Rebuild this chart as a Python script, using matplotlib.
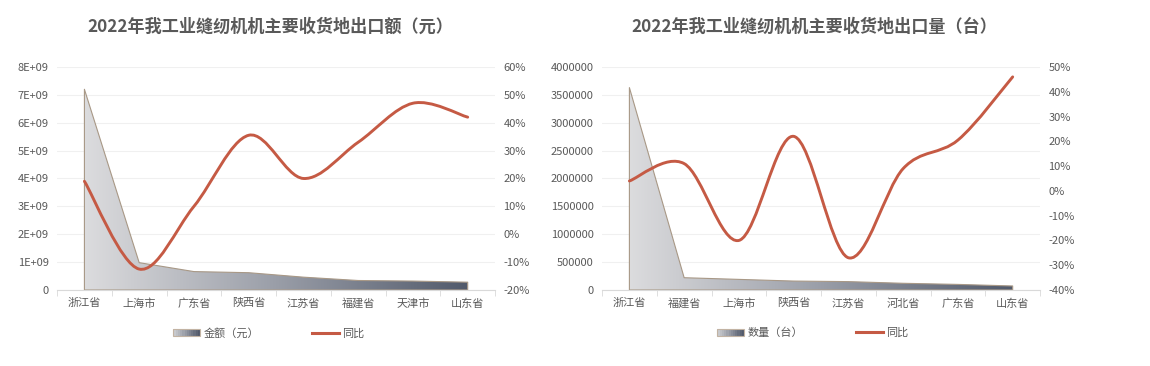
import numpy as np
import matplotlib
matplotlib.use('Agg')
from matplotlib import pyplot as plt
from matplotlib.path import Path
from matplotlib.patches import PathPatch, Patch, Rectangle
from matplotlib.lines import Line2D
from matplotlib.colors import LinearSegmentedColormap
from matplotlib.legend_handler import HandlerBase

plt.rcParams['font.family'] = ['Noto Sans CJK SC', 'DejaVu Sans']

# 左图：出口额（元）
cats_1 = ['浙江省', '上海市', '广东省', '陕西省', '江苏省', '福建省', '天津市', '山东省']
amount_1 = [7.2e9, 0.98e9, 0.66e9, 0.62e9, 0.46e9, 0.34e9, 0.32e9, 0.28e9]
yoy_1 = [19, -12.5, 10, 35.5, 20, 33, 47, 42]

# 右图：出口量（台）
cats_2 = ['浙江省', '福建省', '上海市', '陕西省', '江苏省', '河北省', '广东省', '山东省']
amount_2 = [3630000, 220000, 190000, 160000, 150000, 120000, 100000, 72000]
yoy_2 = [4, 11, -20, 22, -27, 9, 20.5, 46]

titles = ['2022年我工业缝纫机机主要收货地出口额（元）', '2022年我工业缝纫机机主要收货地出口量（台）']
legend_names = ['金额（元）', '数量（台）']

TXT = '#595959'
LINE = '#c55a44'
GRID = '#f0f0f0'
AXIS = '#d9d9d9'
grad = LinearSegmentedColormap.from_list('g', ['#dcdcde', '#9a9ea8', '#525a6b'])


class GradHandler(HandlerBase):
    def create_artists(self, legend, orig, xd, yd, w, h, fs, trans):
        arts = []
        n = 12
        for i in range(n):
            arts.append(Rectangle((xd + w * i / n, yd), w / n + 0.3, h,
                                  facecolor=grad(0.15 + 0.85 * i / (n - 1)),
                                  edgecolor='none', transform=trans))
        arts.append(Rectangle((xd, yd), w, h, facecolor='none',
                              edgecolor='#c2b3a3', lw=0.8, transform=trans))
        return arts


def smooth_path(xs, ys, k=1.0 / 6):
    # Catmull-Rom 样式平滑曲线
    px = np.array(xs, float)
    py = np.array(ys, float)
    n = len(px)
    verts = [(px[0], py[0])]
    codes = [Path.MOVETO]
    for i in range(n - 1):
        a = max(i - 1, 0)
        d = min(i + 2, n - 1)
        c1 = (px[i] + (px[i + 1] - px[a]) * k, py[i] + (py[i + 1] - py[a]) * k)
        c2 = (px[i + 1] - (px[d] - px[i]) * k, py[i + 1] - (py[d] - py[i]) * k)
        verts += [c1, c2, (px[i + 1], py[i + 1])]
        codes += [Path.CURVE4] * 3
    return Path(verts, codes)


fig = plt.figure(figsize=(11.5, 3.66), dpi=100)

panels = [
    (cats_1, amount_1, yoy_1, 0.0496, (0, 8e9, 1e9), (-20, 60), 266),
    (cats_2, amount_2, yoy_2, 0.5235, (0, 4e6, 5e5), (-40, 50), 810),
]

for idx, (cats, amt, yoy, left, (y0, y1, ystep), (r0, r1), tx) in enumerate(panels):
    ax = fig.add_axes([left, 0.2077, 0.3809, 0.6093])
    x = np.arange(len(cats))
    ax.set_yticks(np.arange(y0, y1 + ystep / 2, ystep))
    if idx == 0:
        ax.set_yticklabels(['0'] + ['%dE+09' % v for v in range(1, 9)])
    else:
        ax.set_yticklabels(['%d' % v for v in np.arange(y0, y1 + ystep / 2, ystep)])
    ax.grid(axis='y', color=GRID, lw=0.8)
    ax.set_axisbelow(True)
    for s in ['top', 'left', 'right']:
        ax.spines[s].set_visible(False)
    ax.spines['bottom'].set_color(AXIS)
    ax.set_xticks(x)
    ax.set_xticklabels(cats)
    ax.set_xticks(np.arange(-0.5, len(cats), 1), minor=True)
    ax.tick_params(axis='x', which='major', length=0, pad=6, labelsize=8, colors=TXT)
    ax.tick_params(axis='x', which='minor', length=4, color=AXIS)
    ax.tick_params(axis='y', length=0, pad=6, labelsize=8, colors=TXT)

    # 渐变面积
    poly = ax.fill_between(x, 0, amt, facecolor='none', edgecolor='#a89886', lw=0.8, zorder=2)
    img = ax.imshow(np.linspace(0, 1, 256).reshape(1, -1), cmap=grad, aspect='auto',
                    extent=[x[0], x[-1], y0, max(amt)], zorder=1)
    img.set_clip_path(poly.get_paths()[0], transform=ax.transData)
    ax.set_xlim(-0.5, len(cats) - 0.5)
    ax.set_ylim(y0, y1)

    # 同比曲线
    ax2 = ax.twinx()
    ax2.set_ylim(r0, r1)
    ax2.set_yticks(np.arange(r0, r1 + 1, 10))
    ax2.set_yticklabels(['%d%%' % v for v in np.arange(r0, r1 + 1, 10)])
    ax2.tick_params(axis='y', length=0, pad=6, labelsize=8, colors=TXT)
    for s in ax2.spines.values():
        s.set_visible(False)
    ax2.add_patch(PathPatch(smooth_path(x, yoy), facecolor='none', edgecolor=LINE, lw=2.1,
                            capstyle='round', joinstyle='round', zorder=3))

    fig.text((tx + 4) / 1150, 1 - 27 / 366, titles[idx], ha='center', va='center',
             fontsize=12.3, fontweight='bold', color=TXT)

    handles = [Patch(), Line2D([0], [0], color=LINE, lw=2.2)]
    fig.legend(handles, [legend_names[idx], '同比'], loc='center',
               bbox_to_anchor=((tx + 3) / 1150, 1 - 333 / 366), ncol=2, frameon=False,
               fontsize=8, labelcolor=TXT, handlelength=2.4, handleheight=0.7,
               handletextpad=0.3, columnspacing=4.8,
               handler_map={Patch: GradHandler()})

fig.savefig('out.png', dpi=100, facecolor='white')
